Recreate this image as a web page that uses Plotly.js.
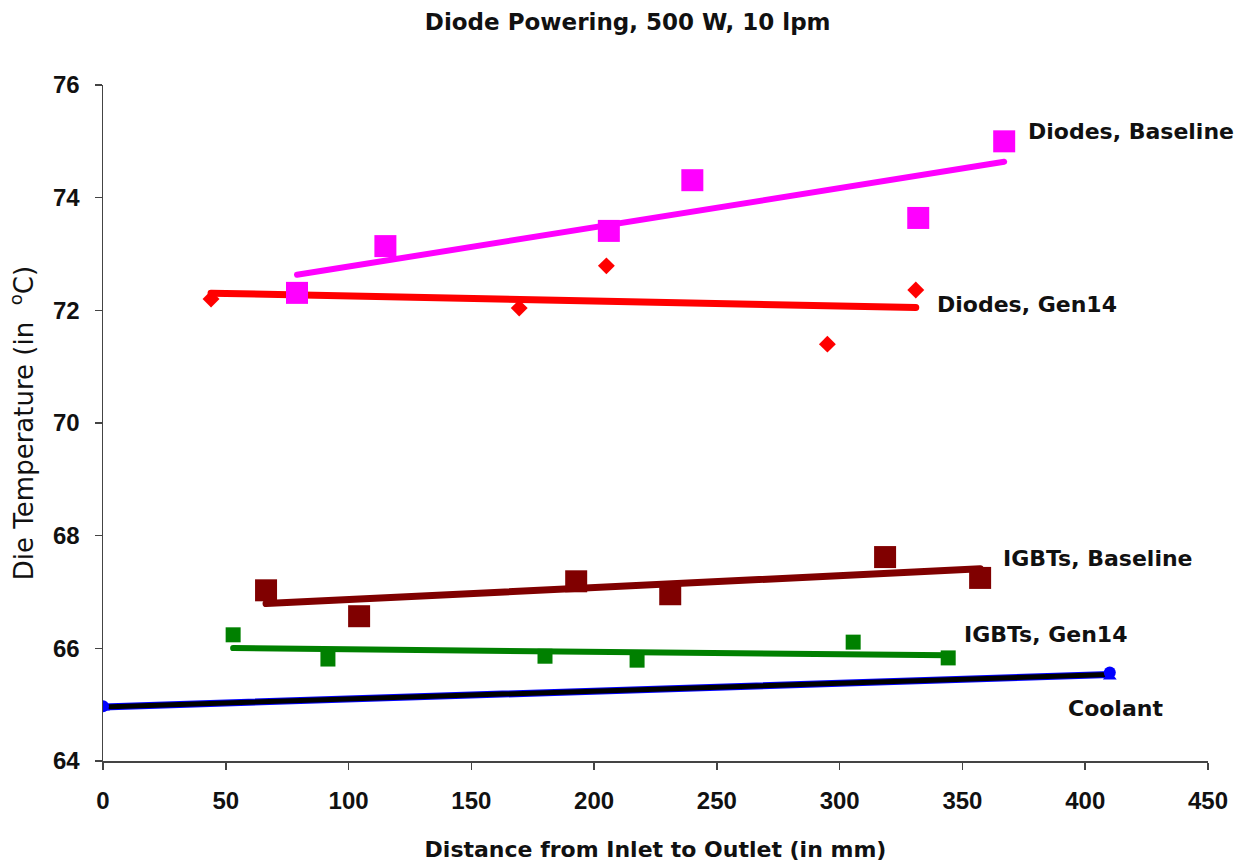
<!DOCTYPE html>
<html>
<head>
<meta charset="utf-8">
<script src="https://cdn.plot.ly/plotly-3.0.1.min.js"></script>
<style>
  html, body { margin: 0; padding: 0; background: #fff; }
  #chart { width: 1243px; height: 865px; }
  .scatterlayer .js-line { stroke-linecap: round; }
</style>
</head>
<body>
<div id="chart"></div>
<script>
// ---- Data ----
const diodeBaseX = [79, 115, 206, 240, 332, 367];
const diodeBaseY = [72.31, 73.14, 73.41, 74.31, 73.64, 75.0];

const diodeGenX = [44, 169.5, 205, 295, 331];
const diodeGenY = [72.20, 72.04, 72.79, 71.40, 72.36];

const igbtBaseX = [66.4, 104.3, 192.7, 231, 318.5, 357.2];
const igbtBaseY = [67.03, 66.57, 67.19, 66.96, 67.62, 67.25];

const igbtGenX = [53, 91.6, 180, 217.5, 305.5, 344.2];
const igbtGenY = [66.24, 65.81, 65.86, 65.79, 66.11, 65.83];

const coolantAX = [0, 410];
const coolantAY = [64.97, 65.57];
const coolantBX = [0, 410];
const coolantBY = [64.95, 65.50];

const seriesLabels = ["Diodes, Baseline", "Diodes, Gen14", "IGBTs, Baseline", "IGBTs, Gen14", "Coolant"];
const labelX = [376, 339, 365.5, 350, 392];
const labelY = [75.17, 72.11, 67.60, 66.25, 64.94];

const xTicks = [0, 50, 100, 150, 200, 250, 300, 350, 400, 450];
const yTicks = [64, 66, 68, 70, 72, 74, 76];

// Linear least-squares trendline (like a spreadsheet trendline), spanning the data's x extent
function trend(xs, ys) {
  const n = xs.length;
  const mx = xs.reduce((a, b) => a + b, 0) / n;
  const my = ys.reduce((a, b) => a + b, 0) / n;
  let sxy = 0, sxx = 0;
  for (let i = 0; i < n; i++) { sxy += (xs[i] - mx) * (ys[i] - my); sxx += (xs[i] - mx) ** 2; }
  const m = sxy / sxx, b = my - m * mx;
  const x0 = Math.min(...xs), x1 = Math.max(...xs);
  return { x: [x0, x1], y: [m * x0 + b, m * x1 + b] };
}

const tDB = trend(diodeBaseX, diodeBaseY);
const tDG = trend(diodeGenX, diodeGenY);
const tIB = trend(igbtBaseX, igbtBaseY);
const tIG = trend(igbtGenX, igbtGenY);
const tC = trend(coolantAX.concat(coolantBX), coolantAY.concat(coolantBY));

const traces = [
  { x: tC.x, y: tC.y, mode: 'lines', type: 'scatter', line: { color: '#0000FF', width: 7 } },
  { x: tC.x, y: tC.y, mode: 'lines', type: 'scatter', line: { color: '#000000', width: 5 } },
  { x: coolantBX, y: coolantBY, mode: 'markers', type: 'scatter', marker: { symbol: 'triangle-up', size: 12, color: '#0000FF' } },
  { x: coolantAX, y: coolantAY, mode: 'markers', type: 'scatter', marker: { symbol: 'circle', size: 12, color: '#0000FF' } },

  { x: igbtGenX, y: igbtGenY, mode: 'markers', type: 'scatter', marker: { symbol: 'square', size: 15, color: '#008000' } },
  { x: tIG.x, y: tIG.y, mode: 'lines', type: 'scatter', line: { color: '#008000', width: 6 } },

  { x: igbtBaseX, y: igbtBaseY, mode: 'markers', type: 'scatter', marker: { symbol: 'square', size: 22, color: '#800000' } },
  { x: tIB.x, y: tIB.y, mode: 'lines', type: 'scatter', line: { color: '#800000', width: 7 } },

  { x: diodeGenX, y: diodeGenY, mode: 'markers', type: 'scatter', marker: { symbol: 'diamond', size: 13, color: '#FF0000' } },
  { x: tDG.x, y: tDG.y, mode: 'lines', type: 'scatter', line: { color: '#FF0000', width: 7 } },

  { x: diodeBaseX, y: diodeBaseY, mode: 'markers', type: 'scatter', marker: { symbol: 'square', size: 22, color: '#FF00FF' } },
  { x: tDB.x, y: tDB.y, mode: 'lines', type: 'scatter', line: { color: '#FF00FF', width: 6 } }
];

const labelFont = { family: 'DejaVu Sans, sans-serif', size: 22, color: '#111111', weight: 'bold' };

const annotations = seriesLabels.map((t, i) => ({
  x: labelX[i], y: labelY[i], xref: 'x', yref: 'y', text: '<b>' + t + '</b>',
  showarrow: false, xanchor: 'left', yanchor: 'middle', font: labelFont
}));

const tickFont = { family: 'Liberation Sans, Arial, sans-serif', size: 24, color: '#111111', weight: 'bold' };

const layout = {
  width: 1243, height: 865,
  paper_bgcolor: '#ffffff', plot_bgcolor: '#ffffff',
  showlegend: false,
  margin: { l: 103, r: 35, t: 85, b: 104 },
  title: {
    text: '<b>Diode Powering, 500 W, 10 lpm</b>',
    font: { family: 'DejaVu Sans, sans-serif', size: 23, color: '#111111' },
    x: 0.505, xanchor: 'center', xref: 'container',
    y: 1 - 22 / 865, yanchor: 'middle', yref: 'container'
  },
  xaxis: {
    range: [0, 450], tickvals: xTicks, ticktext: xTicks.map(String),
    showgrid: false, zeroline: false, showline: true, linecolor: '#444444', linewidth: 1.5,
    ticks: 'outside', ticklen: 7, tickcolor: '#444444', tickwidth: 1.5,
    tickfont: tickFont, ticklabelstandoff: 11,
    automargin: false,
    title: { text: '<b>Distance from Inlet to Outlet (in mm)</b>', font: { family: 'DejaVu Sans, sans-serif', size: 22, color: '#111111' }, standoff: 28 }
  },
  yaxis: {
    range: [64, 76], tickvals: yTicks, ticktext: yTicks.map(String),
    showgrid: false, zeroline: false, showline: true, linecolor: '#444444', linewidth: 1.5,
    ticks: 'outside', ticklen: 7, tickcolor: '#444444', tickwidth: 1.5,
    tickfont: tickFont, ticklabelstandoff: 10,
    automargin: false,
    title: { text: 'Die Temperature (in  <sup>o</sup>C)', font: { family: 'DejaVu Sans, sans-serif', size: 26, color: '#111111' }, standoff: 12 }
  },
  annotations: annotations
};

Plotly.newPlot('chart', traces, layout, { displayModeBar: false, staticPlot: true });
</script>
</body>
</html>
